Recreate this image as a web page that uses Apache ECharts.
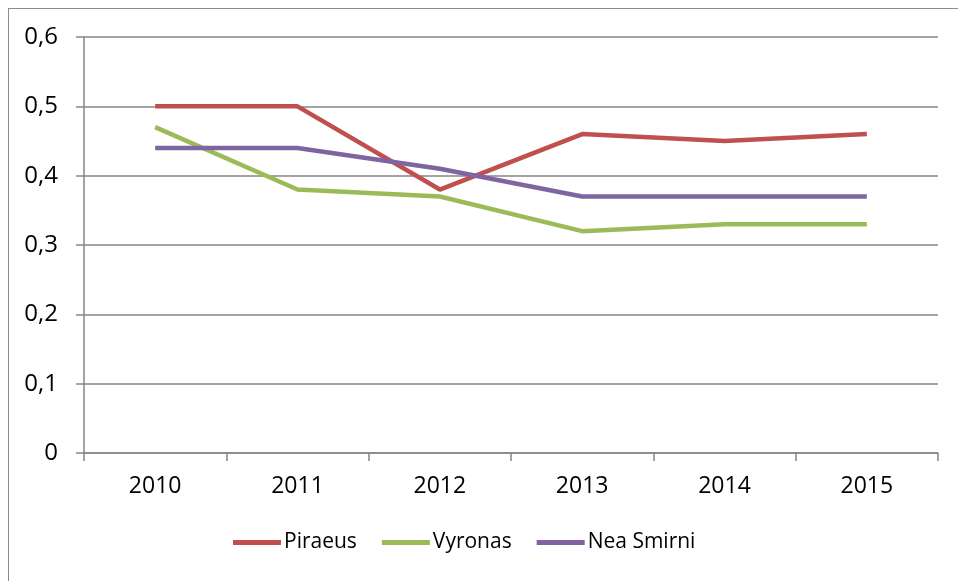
<!DOCTYPE html>
<html>
<head>
<meta charset="utf-8">
<script src="https://cdn.jsdelivr.net/npm/echarts@6/dist/echarts.min.js"></script>
<style>
  body { margin: 0; background: #fff; }
  #frame { position: absolute; left: 8px; top: 8px; width: 970px; height: 600px; border: 1px solid #8c8c8c; }
  #chart { position: absolute; left: 0; top: 0; width: 958px; height: 581px; }
</style>
</head>
<body>
<div id="frame"></div>
<div id="chart"></div>
<script>
// 年份
var years = ['2010', '2011', '2012', '2013', '2014', '2015'];
// 各地区数值
var piraeus = [0.50, 0.50, 0.38, 0.46, 0.45, 0.46];
var vyronas = [0.47, 0.38, 0.37, 0.32, 0.33, 0.33];
var neaSmirni = [0.44, 0.44, 0.41, 0.37, 0.37, 0.37];

var font = 'Open Sans, Liberation Sans, sans-serif';
var myChart = echarts.init(document.getElementById('chart'));

var option = {
    animation: false,
    textStyle: { fontFamily: font },
    grid: { left: 84, right: 20, top: 37, bottom: 128 },
    legend: {
        bottom: 23,
        left: 228,
        icon: 'path://M0,0 L48,0 L48,5 L0,5 Z',
        itemWidth: 48,
        itemHeight: 5,
        itemGap: 25,
        textStyle: { fontSize: 21, color: '#000', fontFamily: font, padding: [0, 0, 0, -2] },
        data: ['Piraeus', 'Vyronas', 'Nea Smirni']
    },
    xAxis: {
        type: 'category',
        data: years,
        boundaryGap: true,
        axisLine: { lineStyle: { color: '#868686', width: 1.5 } },
        axisTick: { show: true, length: 8, lineStyle: { color: '#868686', width: 1.5 } },
        axisLabel: { fontSize: 23, color: '#000', margin: 22 }
    },
    yAxis: {
        type: 'value',
        min: 0, max: 0.6, interval: 0.1,
        axisLine: { show: true, lineStyle: { color: '#868686', width: 1.5 } },
        axisTick: { show: true, length: 8, lineStyle: { color: '#868686', width: 1.5 } },
        splitLine: { lineStyle: { color: '#868686', width: 1.5 } },
        axisLabel: {
            fontSize: 24, color: '#000', margin: 26,
            formatter: function (v) { return v === 0 ? '0' : v.toFixed(1).replace('.', ','); }
        }
    },
    series: [
        { name: 'Piraeus', type: 'line', data: piraeus, color: '#C0504D', showSymbol: false, lineStyle: { width: 4.5 } },
        { name: 'Vyronas', type: 'line', data: vyronas, color: '#9BBB59', showSymbol: false, lineStyle: { width: 4.5 } },
        { name: 'Nea Smirni', type: 'line', data: neaSmirni, color: '#8064A2', showSymbol: false, lineStyle: { width: 4.5 } }
    ]
};
myChart.setOption(option);
</script>
</body>
</html>
